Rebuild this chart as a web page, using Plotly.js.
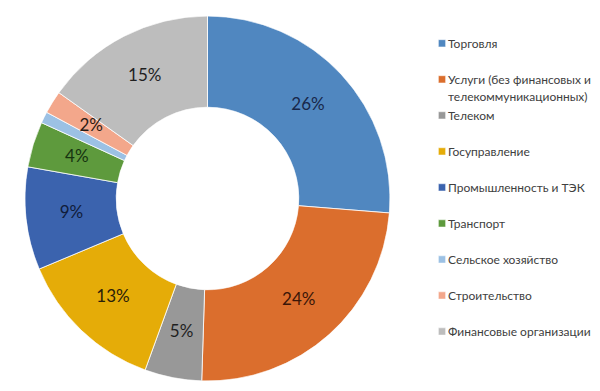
<!DOCTYPE html>
<html>
<head>
<meta charset="utf-8">
<script src="https://cdn.plot.ly/plotly-3.0.1.min.js"></script>
<style>html,body{margin:0;padding:0;background:#fff;} #chart{width:600px;height:391px;}</style>
</head>
<body>
<div id="chart"></div>
<script>
var categories = ["Торговля", "Услуги (без финансовых и<br>телекоммуникационных)", "Телеком", "Госуправление", "Промышленность и ТЭК", "Транспорт", "Сельское хозяйство", "Строительство", "Финансовые организации"];
var shares = [26, 24, 5, 13, 9, 4, 1, 2, 15];
var sliceLabels = ["26%", "24%", "5%", "13%", "9%", "4%", "", "2%", "15%"];
var sliceColors = ["#5087C0", "#DB6E2D", "#989898", "#E5AC08", "#3B63AE", "#5E9A3D", "#9CC1E4", "#F3A78B", "#BDBDBD"];
var labelColors = ["#18284a", "#3a1608", "#1f1f1f", "#2a2008", "#101c3a", "#163410", "#1f1f1f", "#2a1a14", "#1f1f1f"];

var total = shares.reduce(function(a, b){ return a + b; }, 0);
var widthsDeg = shares.map(function(v){ return v / total * 360; });
var midsDeg = [];
var acc = 0;
shares.forEach(function(v){ midsDeg.push((acc + v / 2) / total * 360); acc += v; });

function legendText(name){
  var lines = name.split("<br>").map(function(l){ return '<span style="font-size:12px">' + l + '</span>'; });
  if (lines.length === 1) lines.push(" ");
  return lines.join("<br>");
}

var traces = categories.map(function(name, i){
  return {
    type: "barpolar",
    name: legendText(name),
    r: [1],
    base: [0],
    theta: [midsDeg[i]],
    width: [widthsDeg[i]],
    marker: {color: sliceColors[i], line: {color: "#ffffff", width: 0.8}},
    hoverinfo: "none"
  };
});

traces.push({
  type: "scatterpolar",
  mode: "text",
  r: shares.map(function(){ return 0.5; }),
  theta: midsDeg,
  text: sliceLabels,
  textposition: "middle center",
  textfont: {family: "Lato, 'Open Sans', sans-serif", size: 17, color: labelColors},
  showlegend: false,
  hoverinfo: "none",
  cliponaxis: false
});

var layout = {
  width: 600, height: 391,
  margin: {l: 0, r: 0, t: 0, b: 0},
  paper_bgcolor: "#ffffff",
  showlegend: true,
  polar: {
    domain: {x: [25/600, 390/600], y: [1 - 381/391, 1 - 16/391]},
    hole: 0.5,
    bargap: 0,
    bgcolor: "rgba(0,0,0,0)",
    radialaxis: {visible: false, range: [0, 1]},
    angularaxis: {visible: false, rotation: 90, direction: "clockwise", thetaunit: "degrees"}
  },
  legend: {
    x: 0.68, xanchor: "left", y: 0.927, yanchor: "top",
    valign: "top",
    traceorder: "normal",
    font: {family: "Lato, 'Open Sans', sans-serif", size: 12.7, color: "#404040"},
    bgcolor: "rgba(0,0,0,0)", borderwidth: 0,
    itemclick: false, itemdoubleclick: false
  }
};

Plotly.newPlot("chart", traces, layout, {staticPlot: true, displayModeBar: false}).then(function(gd){
  var marks = gd.querySelectorAll(".legend .legendpoints path");
  marks.forEach(function(p){ p.setAttribute("transform", "translate(34,0) scale(0.6)"); });
});
</script>
</body>
</html>
